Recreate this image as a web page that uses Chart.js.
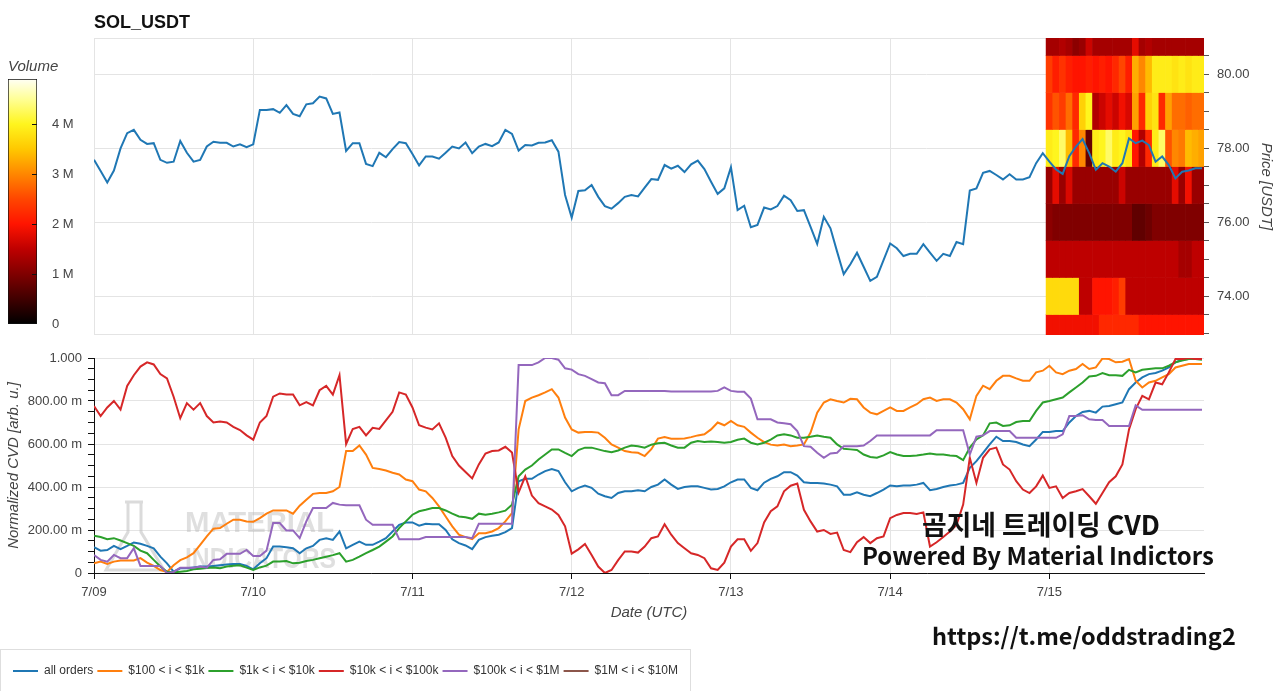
<!DOCTYPE html>
<html><head><meta charset="utf-8">
<script src="https://cdn.jsdelivr.net/npm/chart.js@4/dist/chart.umd.min.js"></script>
<style>
html,body{margin:0;padding:0;background:#fff;width:1280px;height:691px;overflow:hidden;position:relative}
.box{position:absolute}
</style></head><body>
<div class="box" style="left:0;top:0;width:1280px;height:340px"><canvas id="price" width="1280" height="340"></canvas></div>
<div class="box" style="left:0;top:0;width:100px;height:340px"><canvas id="cbar" width="100" height="340"></canvas></div>
<div class="box" style="left:0;top:340px;width:1280px;height:351px"><canvas id="cvd" width="1280" height="351"></canvas></div>
<script>
Chart.defaults.font.family = '"Liberation Sans", Arial, Helvetica, sans-serif';
Chart.defaults.color = '#444';

// ---------- data ----------
const dayLabels = ['7/09','7/10','7/11','7/12','7/13','7/14','7/15'];
const xMaxHour = 167.3;

// hourly SOL_USDT price, hour 0 = 7/09 00:00
const price = [
77.68,77.38,77.07,77.39,77.99,78.40,78.49,78.22,78.11,78.13,
77.68,77.60,77.63,78.19,77.87,77.63,77.68,78.04,78.17,78.14,
78.14,78.04,78.10,78.02,78.10,79.03,79.03,79.05,78.95,79.16,
78.92,78.86,79.18,79.21,79.39,79.34,78.92,78.96,77.92,78.13,
78.13,77.57,77.51,77.87,77.75,77.97,78.16,78.13,77.84,77.53,
77.77,77.77,77.71,77.87,78.04,77.99,78.15,77.86,78.04,78.11,
78.05,78.15,78.49,78.38,77.93,78.08,78.07,78.14,78.15,78.21,
77.90,76.73,76.12,76.84,76.86,77.00,76.68,76.43,76.36,76.51,
76.68,76.73,76.69,76.93,77.16,77.14,77.54,77.44,77.52,77.35,
77.56,77.66,77.43,77.09,76.76,76.91,77.48,76.32,76.44,75.86,
75.92,76.39,76.34,76.43,76.71,76.59,76.30,76.32,75.87,75.41,
76.14,75.83,75.20,74.59,74.86,75.17,74.79,74.41,74.52,74.97,
75.42,75.29,75.08,75.14,75.14,75.40,75.17,74.95,75.14,75.08,
75.46,75.40,76.85,76.91,77.33,77.38,77.27,77.15,77.29,77.15,
77.15,77.21,77.59,77.86,77.63,77.42,77.30,77.78,78.04,78.24,
77.86,77.41,77.59,77.50,77.36,77.59,78.26,78.13,78.20,78.08,
77.63,77.77,77.54,77.18,77.36,77.39,77.45,77.45];

// volume heatmap (millions), price bins (USDT) x hours of 7/15
const priceBins = [81,80,79,78,77,76,75,74,73];
const heatHours = [144,145,146,147,148,149,150,151,152,153,154,155,156,157,158,159,160,161,162,163,164,165,166,167];
const vol81 = [1.3,1.3,1.4,1.3,1.1,1.2,1.6,1.3,1.3,1.3,1.3,1.3,1.3,1.8,1.3,1.4,1.3,1.3,1.3,1.3,1.3,1.3,1.3,1.3];
const vol80 = [2.4,2.1,2.3,2.1,2.0,2.0,2.1,2.0,2.1,2.0,2.2,2.5,2.1,3.3,3.0,3.4,3.9,3.9,3.9,3.8,3.9,3.8,3.9,3.9];
const vol79 = [2.3,2.6,2.4,2.8,2.2,3.6,4.0,1.4,1.6,1.8,1.6,1.9,1.7,3.2,2.2,3.6,3.8,2.2,3.2,2.8,2.8,2.7,2.8,2.8];
const vol78 = [3.9,4.0,4.3,3.4,2.2,3.0,0.8,3.9,4.0,4.3,3.9,4.0,3.8,2.0,1.4,2.2,3.9,4.3,2.6,3.0,2.9,3.4,3.3,3.2];
const vol77 = [1.2,1.8,1.2,1.7,1.2,1.2,1.2,1.2,1.2,1.2,1.2,1.6,1.2,1.2,1.2,1.2,1.2,1.2,1.2,1.8,1.2,1.9,1.2,1.2];
const vol76 = [1.1,1.0,1.0,1.0,1.0,1.0,1.0,1.0,1.0,1.0,1.0,1.0,1.0,0.75,0.75,0.85,1.0,1.0,1.0,1.0,1.0,1.0,1.0,1.0];
const vol75 = [1.5,1.5,1.5,1.5,1.5,1.5,1.5,1.5,1.5,1.5,1.5,1.5,1.5,1.5,1.5,1.5,1.5,1.5,1.5,1.5,1.3,1.3,1.5,1.5];
const vol74 = [3.7,3.7,3.7,3.7,3.7,1.5,1.5,2.0,2.0,2.0,2.1,2.4,1.5,1.5,1.5,1.5,1.5,1.5,1.5,1.5,1.5,1.5,1.5,1.5];
const vol73 = [1.9,1.9,1.9,1.9,1.9,1.9,1.9,1.9,2.2,2.2,2.2,2.2,2.2,2.2,2.0,2.0,2.0,2.0,2.0,2.0,2.0,2.0,2.0,2.0];
const volumeRows = [vol81,vol80,vol79,vol78,vol77,vol76,vol75,vol74,vol73];
const volumeMax = 4.9;
const volumeTicks = [0,1,2,3,4];

// normalized CVD series, hourly
const cvdAll = [
.120,.104,.107,.126,.111,.126,.142,.136,.126,.115,
.076,.045,.006,.022,.022,.026,.030,.030,.033,.036,
.039,.042,.042,.033,.017,.045,.069,.123,.123,.120,
.115,.092,.115,.126,.154,.162,.154,.193,.115,.131,
.146,.131,.131,.146,.162,.193,.224,.235,.235,.220,
.229,.227,.227,.200,.157,.139,.128,.111,.154,.167,
.173,.178,.190,.209,.427,.438,.438,.458,.474,.484,
.474,.422,.380,.396,.407,.396,.369,.357,.349,.372,
.380,.380,.385,.380,.400,.411,.435,.411,.391,.400,
.403,.403,.396,.388,.391,.403,.422,.435,.435,.396,
.385,.420,.438,.450,.469,.469,.453,.422,.419,.419,
.416,.411,.403,.364,.364,.375,.364,.357,.372,.388,
.407,.403,.407,.407,.411,.419,.385,.391,.400,.407,
.411,.419,.489,.520,.559,.598,.634,.614,.614,.609,
.598,.590,.621,.656,.656,.660,.660,.700,.730,.749,
.754,.746,.774,.777,.785,.793,.855,.886,.910,.925,
.930,.941,.956,.980,.992,.995,.998,.998];
const cvd100to1k = [
.045,.053,.042,.053,.058,.058,.058,.069,.048,.033,
.014,.005,.036,.060,.073,.092,.131,.170,.206,.209,
.229,.248,.248,.240,.238,.255,.276,.291,.291,.291,
.276,.313,.341,.368,.372,.372,.380,.400,.567,.567,
.593,.551,.489,.484,.477,.466,.458,.435,.427,.388,
.380,.349,.310,.263,.217,.178,.167,.157,.185,.185,
.193,.209,.240,.279,.668,.800,.816,.827,.840,.855,
.816,.723,.668,.653,.656,.656,.653,.629,.598,.583,
.567,.562,.559,.544,.576,.625,.632,.625,.625,.626,
.632,.640,.645,.668,.700,.687,.707,.687,.680,.653,
.629,.609,.597,.593,.598,.590,.593,.598,.653,.746,
.793,.808,.800,.793,.810,.808,.770,.746,.738,.754,
.770,.754,.754,.770,.785,.808,.816,.800,.808,.808,
.793,.762,.715,.824,.871,.855,.894,.917,.917,.905,
.894,.894,.933,.941,.964,.933,.925,.941,.949,.972,
.949,.956,.998,.995,.980,.983,.995,.894,.863,.886,
.894,.910,.925,.956,.964,.972,.972,.972];
const cvd1kto10k = [
.173,.167,.157,.162,.151,.139,.126,.104,.092,.061,
.030,.006,.003,.006,.009,.017,.020,.023,.026,.022,
.030,.034,.036,.025,.014,.026,.034,.053,.053,.056,
.045,.048,.056,.061,.069,.076,.083,.092,.053,.061,
.076,.092,.107,.123,.146,.170,.209,.240,.271,.287,
.294,.302,.302,.291,.276,.263,.259,.252,.276,.271,
.276,.282,.290,.318,.450,.481,.500,.528,.551,.575,
.575,.559,.544,.572,.583,.583,.575,.567,.562,.570,
.583,.593,.590,.583,.597,.603,.606,.593,.583,.583,
.606,.614,.609,.612,.609,.606,.609,.620,.625,.606,
.598,.606,.620,.640,.645,.640,.629,.629,.634,.640,
.634,.629,.598,.578,.575,.572,.551,.540,.536,.547,
.562,.551,.544,.544,.547,.551,.556,.551,.551,.547,
.544,.525,.583,.621,.640,.696,.700,.684,.687,.702,
.707,.707,.754,.793,.800,.808,.816,.840,.863,.886,
.914,.917,.930,.920,.920,.917,.945,.933,.945,.949,
.952,.952,.964,.980,.988,.995,.995,.992];
const cvd10kto100k = [
.777,.730,.770,.800,.760,.870,.920,.960,.980,.970,
.925,.905,.820,.720,.790,.760,.790,.730,.700,.705,
.700,.680,.665,.640,.620,.700,.730,.820,.835,.830,
.830,.780,.795,.780,.850,.870,.830,.920,.600,.670,
.680,.640,.675,.670,.710,.750,.840,.830,.770,.687,
.676,.668,.696,.630,.544,.500,.470,.440,.505,.556,
.567,.570,.587,.560,.375,.450,.360,.325,.310,.295,
.270,.217,.090,.110,.135,.084,.030,.000,.014,.060,
.100,.100,.095,.123,.162,.170,.227,.178,.139,.115,
.092,.084,.069,.022,.014,.048,.123,.157,.157,.103,
.139,.235,.287,.310,.380,.406,.416,.294,.240,.193,
.200,.182,.188,.107,.097,.143,.167,.139,.162,.170,
.255,.270,.279,.279,.274,.282,.123,.143,.167,.193,
.224,.318,.536,.419,.536,.575,.583,.505,.481,.427,
.388,.372,.403,.453,.396,.403,.349,.372,.380,.390,
.357,.322,.372,.422,.450,.505,.668,.762,.824,.808,
.886,.878,.933,.995,.995,1.000,.995,.995];
const cvd100kto1M = [
.084,.061,.053,.084,.069,.069,.115,.033,.033,.033,
.033,.000,.005,.025,.025,.025,.030,.025,.061,.064,
.089,.089,.089,.107,.079,.079,.104,.232,.232,.198,
.198,.162,.240,.302,.302,.302,.326,.318,.315,.315,
.315,.248,.224,.224,.224,.224,.157,.157,.157,.157,
.167,.167,.167,.167,.167,.167,.167,.162,.229,.229,
.229,.229,.229,.229,.967,.967,.967,.980,1.000,1.000,
.992,.952,.946,.925,.917,.902,.886,.883,.827,.827,
.847,.847,.847,.847,.847,.847,.847,.844,.844,.844,
.844,.844,.844,.844,.847,.863,.847,.843,.843,.811,
.715,.715,.715,.700,.696,.692,.660,.590,.587,.559,
.536,.556,.559,.590,.590,.590,.593,.614,.640,.640,
.640,.640,.640,.640,.640,.640,.640,.664,.664,.664,
.664,.664,.551,.634,.640,.660,.660,.660,.660,.629,
.629,.629,.629,.629,.629,.629,.645,.730,.730,.734,
.715,.712,.712,.684,.684,.684,.684,.780,.759,.759,
.759,.759,.759,.759,.759,.759,.759,.759];
const cvd1Mto10M = [];

const seriesNames = ['all orders','$100 < i < $1k','$1k < i < $10k','$10k < i < $100k','$100k < i < $1M','$1M < i < $10M'];
const seriesValues = [cvdAll,cvd100to1k,cvd1kto10k,cvd10kto100k,cvd100kto1M,cvd1Mto10M];
const seriesColors = ['#1f77b4','#ff7f0e','#2ca02c','#d62728','#9467bd','#8c564b'];

// ---------- colormap (styling) ----------
const cmapStops = [[0,[0,0,0]],[1.0,[128,0,0]],[1.5,[190,0,0]],[2.0,[255,20,0]],[2.5,[255,70,0]],[3.0,[255,135,0]],[3.5,[255,200,0]],[4.0,[255,245,30]],[4.5,[255,255,150]],[4.9,[255,255,245]]];
function cmap(v){
  if (v <= cmapStops[0][0]) return 'rgb(0,0,0)';
  for (let i=1;i<cmapStops.length;i++){
    const [v1,c1]=cmapStops[i], [v0,c0]=cmapStops[i-1];
    if (v <= v1){ const t=(v-v0)/(v1-v0); const c=c0.map((a,k)=>Math.round(a+(c1[k]-a)*t)); return `rgb(${c[0]},${c[1]},${c[2]})`; }
  }
  const c=cmapStops[cmapStops.length-1][1]; return `rgb(${c[0]},${c[1]},${c[2]})`;
}

const dayTick = v => { const i = v/24; return Number.isInteger(i) && dayLabels[i] ? dayLabels[i] : ''; };
const noVPad = s => { s.paddingTop = 0; s.paddingBottom = 0; };

// ---------- price chart ----------
const framePlugin = { id:'frame', beforeDatasetsDraw(chart){ const a=chart.chartArea, c=chart.ctx; c.save(); c.strokeStyle='#e4e4e4'; c.lineWidth=1; c.strokeRect(Math.round(a.left)+0.5, Math.round(a.top)+0.5, Math.round(a.right-a.left)-1, Math.round(a.bottom-a.top)-1); c.restore(); } };

const heatDatasets = priceBins.map((b, r) => ({
  type:'bar',
  data: heatHours.map(h => ({x:h, y:[b-0.5, b+0.5]})),
  backgroundColor: volumeRows[r].map(cmap),
  borderWidth:0, barPercentage:1, categoryPercentage:1, grouped:false, clip:0, order:1
}));

new Chart(document.getElementById('price'), {
  type:'line',
  data:{ datasets:[
    { type:'line', data: price.map((p,i)=>({x:i,y:p})), borderColor:'#1f77b4', borderWidth:2, pointRadius:0, tension:0, fill:false, order:0 },
    ...heatDatasets
  ]},
  options:{
    responsive:false, animation:false, devicePixelRatio:1, events:[],
    layout:{padding:{left:94,right:0,top:0,bottom:0}},
    plugins:{ legend:{display:false}, tooltip:{enabled:false},
      title:{display:true, text:'SOL_USDT', align:'start', color:'#111', font:{size:18, weight:'bold'}, padding:{top:12,bottom:4.4}} },
    scales:{
      x:{ type:'linear', min:0, max:xMaxHour, offset:false,
          ticks:{display:false, stepSize:24, includeBounds:false},
          grid:{color:'#e4e4e4', drawTicks:false, offset:false}, border:{display:false},
          afterFit(s){ s.height = 5; s.paddingLeft = 0; s.paddingRight = 0; } },
      y:{ position:'right', min:72.946, max:80.973,
          ticks:{stepSize:0.5, includeBounds:false, autoSkip:false, padding:8, color:'#444', font:{size:13},
                 callback:v => (Math.round(v*2)%4===0) ? v.toFixed(2) : ''},
          grid:{ color: c => (c.tick && Math.round(c.tick.value*2)%4===0) ? '#e4e4e4' : 'rgba(0,0,0,0)',
                 tickColor:'#555', tickLength:5, drawTicks:true },
          border:{display:false},
          title:{display:true, text:'Price [USDT]', color:'#444', font:{size:15, style:'italic'}, padding:{top:5,bottom:0}},
          afterFit(s){ s.width = 76; noVPad(s); } }
    }
  },
  plugins:[framePlugin]
});

// ---------- colorbar ----------
const cbarTicks = { id:'cbarTicks', afterDatasetsDraw(chart){ const y=chart.scales.y, a=chart.chartArea, c=chart.ctx; c.save(); c.strokeStyle='#111'; c.lineWidth=1;
  volumeTicks.slice(1).forEach(v => { const py=Math.round(y.getPixelForValue(v))+0.5; c.beginPath(); c.moveTo(a.right-5,py); c.lineTo(a.right,py); c.stroke(); }); c.restore(); } };

new Chart(document.getElementById('cbar'), {
  type:'bar',
  data:{ labels:['Volume'], datasets:[{ data:[[0, volumeMax]],
    backgroundColor(ctx){ const ch=ctx.chart; const y=ch.scales.y; if(!y || !ch.chartArea) return '#800';
      const g=ch.ctx.createLinearGradient(0, y.getPixelForValue(0), 0, y.getPixelForValue(volumeMax));
      cmapStops.forEach(([v]) => g.addColorStop(Math.min(1, v/volumeMax), cmap(v))); return g; },
    borderColor:'#111', borderWidth:1, borderSkipped:false, barPercentage:1, categoryPercentage:1 }]},
  options:{
    responsive:false, animation:false, devicePixelRatio:1, events:[],
    layout:{padding:{left:8,top:58,bottom:16,right:0}},
    plugins:{ legend:{display:false}, tooltip:{enabled:false},
      title:{display:true, text:'Volume', align:'start', color:'#444', font:{size:15, style:'italic', weight:'normal'}, padding:{top:0,bottom:3}} },
    scales:{
      x:{display:false},
      y:{ position:'right', min:0, max:volumeMax,
          afterBuildTicks(s){ s.ticks = volumeTicks.map(v=>({value:v})); },
          ticks:{ padding:7, color:'#444', font:{size:13}, callback:v => v===0 ? '0' : v+' M' },
          grid:{display:false}, border:{display:false},
          afterFit(s){ s.width = 63; noVPad(s); } }
    }
  },
  plugins:[cbarTicks]
});

// ---------- CVD chart ----------
const decor = {
  id:'decor',
  beforeDatasetsDraw(chart){
    const c=chart.ctx; c.save();
    // Material Indicators watermark
    c.strokeStyle='rgba(190,190,190,0.55)'; c.lineWidth=3;
    c.beginPath(); c.moveTo(125,162); c.lineTo(143,162); c.moveTo(128,162); c.lineTo(128,192); c.lineTo(106,230); c.lineTo(164,230); c.lineTo(141,192); c.lineTo(141,162); c.stroke();
    c.fillStyle='rgba(185,185,185,0.45)';
    c.font='bold 30px "Liberation Sans", Arial, sans-serif'; c.textBaseline='alphabetic';
    c.fillText('MATERIAL', 185, 192, 149);
    c.fillText('INDICATORS', 185, 228, 151);
    c.restore();
  },
  afterDraw(chart){
    const c=chart.ctx; c.save();
    c.strokeStyle='#dedede'; c.lineWidth=1; c.strokeRect(0.5, 309.5, 690, 50);
    c.fillStyle='#111'; c.textBaseline='alphabetic';
    const fam='"Noto Sans CJK KR", "Noto Sans", sans-serif';
    [['곰지네 트레이딩 CVD',922,238,195],['Powered By Material Indictors',862,352,225],['https://t.me/oddstrading2',932,304,305]].forEach(([t,x,w,y])=>{
      c.font='bold 22px '+fam; const m=c.measureText(t).width; const fs=22*w/m;
      c.font='bold '+fs.toFixed(2)+'px '+fam; c.fillText(t,x,y);
    });
    c.restore();
  }
};

new Chart(document.getElementById('cvd'), {
  type:'line',
  data:{ datasets: seriesNames.map((n,i)=>({
    label:n, data: seriesValues[i].map((v,h)=>({x:h,y:v})),
    borderColor:seriesColors[i], backgroundColor:seriesColors[i], borderWidth:2,
    pointRadius:0, tension:0, fill:false, order:10-i })) },
  options:{
    responsive:false, animation:false, devicePixelRatio:1, events:[],
    layout:{padding:{left:9,right:76,top:18,bottom:4}},
    plugins:{
      tooltip:{enabled:false},
      legend:{ display:true, position:'bottom', align:'start',
        labels:{ usePointStyle:true, pointStyle:'line', pointStyleWidth:25, padding:4, color:'#333', font:{size:12},
                 sort:(a,b)=>a.datasetIndex-b.datasetIndex } }
    },
    scales:{
      x:{ type:'linear', min:0, max:xMaxHour,
          ticks:{stepSize:24, includeBounds:false, autoSkip:false, maxRotation:0, padding:6, color:'#444', font:{size:13}, callback:dayTick},
          grid:{color:'#e4e4e4', tickColor:'#111', tickLength:6},
          border:{color:'#111', width:1},
          title:{display:true, text:'Date (UTC)', color:'#444', font:{size:15, style:'italic'}, padding:{top:0,bottom:39}},
          afterFit(s){ s.height = 88; } },
      y:{ min:0, max:1,
          ticks:{stepSize:0.05, includeBounds:false, autoSkip:false, padding:6, color:'#444', font:{size:13},
                 callback:v => { const r=Math.round(v*20); if (r%4) return ''; if (r===0) return '0'; if (r===20) return '1.000'; return (v*1000).toFixed(2)+' m'; }},
          grid:{ color: c => (c.tick && Math.round(c.tick.value*20)%4===0) ? '#e4e4e4' : 'rgba(0,0,0,0)', tickColor:'#111', tickLength:6 },
          border:{color:'#111', width:1},
          title:{display:true, text:'Normalized CVD [arb. u.]', color:'#444', font:{size:15, style:'italic'}, padding:{top:-4.5,bottom:0}},
          afterFit(s){ s.width = 85; } }
    }
  },
  plugins:[decor]
});
</script>
</body></html>
